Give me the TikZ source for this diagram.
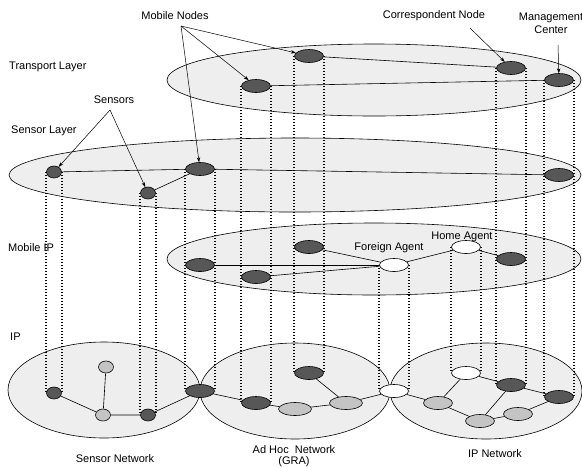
\documentclass[tikz,border=0pt]{standalone}
\usepackage{fontspec}
\setmainfont{Liberation Sans}
\usetikzlibrary{shapes.geometric,arrows.meta}
\definecolor{layerfill}{HTML}{EEEEEE}
\definecolor{darknode}{HTML}{575757}
\definecolor{lightnode}{HTML}{C4C4C4}
\pgfdeclarelayer{back}
\pgfdeclarelayer{mid}
\pgfsetlayers{back,mid,main}
\begin{document}
\begin{tikzpicture}[x=1pt,y=-1pt, font=\fontsize{11}{13}\selectfont,
 layer/.style={draw=black, line width=0.6pt, fill=layerfill},
 nd/.style={ellipse, draw=black, line width=0.6pt, inner sep=0pt, minimum width=29pt, minimum height=13pt},
 dark/.style={nd, fill=darknode},
 darks/.style={nd, fill=darknode, minimum width=15pt, minimum height=12pt},
 light/.style={nd, fill=lightnode},
 lightw/.style={nd, fill=lightnode, minimum width=33pt},
 lights/.style={nd, fill=lightnode, minimum width=15pt, minimum height=12pt},
 agent/.style={nd, fill=white},
 link/.style={draw=black, line width=0.6pt},
 vline/.style={draw=black, line width=1.5pt, dash pattern=on 1.4pt off 1.6pt},
 callout/.style={draw=black, line width=0.5pt, -{Stealth[length=5pt,width=3.5pt]}},
 lbl/.style={inner sep=0pt}]
\useasboundingbox (0,0) rectangle (582,467);

% layer planes
\begin{pgfonlayer}{back}
\draw[layer] (374,80) ellipse [x radius=207pt, y radius=36pt];
\draw[layer] (295,175) ellipse [x radius=286pt, y radius=37pt];
\draw[layer] (374,259) ellipse [x radius=207pt, y radius=36pt];
\draw[layer] (104,390) ellipse [x radius=96pt, y radius=48pt];
\draw[layer] (295,391) ellipse [x radius=95pt, y radius=48pt];
\draw[layer] (486,391) ellipse [x radius=96pt, y radius=48pt];
\end{pgfonlayer}

% transport layer
\node[dark] (T1) at (309,56) {};
\node[dark] (T2) at (256,86) {};
\node[dark] (T3) at (511,68) {};
\node[dark] (T4) at (559,80) {};
% sensor layer
\node[darks] (S1) at (54,172) {};
\node[darks] (S2) at (148,193) {};
\node[dark] (S3) at (200,169) {};
\node[dark] (S4) at (559,175) {};
% mobile IP
\node[dark] (M1) at (200,265) {};
\node[dark] (M2) at (256,277) {};
\node[dark] (M3) at (309,247) {};
\node[agent] (FA) at (394,265) {};
\node[agent] (HA) at (466,247) {};
\node[dark] (M4) at (511,259) {};
% IP level
\node[darks] (B1) at (54,393) {};
\node[lights] (B2) at (106,367) {};
\node[lights] (B3) at (103,415) {};
\node[darks] (B4) at (148,415) {};
\node[dark] (B5) at (200,391) {};
\node[dark] (B6) at (256,403) {};
\node[lightw] (B7) at (295,409) {};
\node[dark] (B8) at (309,373) {};
\node[lightw] (B9) at (346,403) {};
\node[agent] (B10) at (394,391) {};
\node[agent] (B11) at (466,373) {};
\node[light] (B12) at (438,403) {};
\node[dark] (B13) at (511,385) {};
\node[light] (B14) at (480,421) {};
\node[light] (B15) at (518,414) {};
\node[dark] (B16) at (559,397) {};

\begin{pgfonlayer}{mid}
% vertical dotted projections
\foreach \a/\b in {S1/B1,S2/B4,S3/B5,T2/B6,T1/B8,FA/B10,HA/B11,T3/B13,T4/B16}{
  \draw[vline] (\a.west) -- (\b.west);
  \draw[vline] (\a.east) -- (\b.east);
}
% links
\draw[link] (T1) -- (T3);
\draw[link] (T2) -- (T4);
\draw[link] (S1) -- (S3) -- (S4);
\draw[link] (S2) -- (S3);
\draw[link] (M1) -- (FA);
\draw[link] (M2) -- (FA);
\draw[link] (M3) -- (FA);
\draw[link] (FA) -- (HA) -- (M4);
\draw[link] (B1) -- (B3) -- (B4) -- (B5);
\draw[link] (B2) -- (B3);
\draw[link] (B5) -- (B6) -- (B7) -- (B9) -- (B10);
\draw[link] (B8) -- (B9);
\draw[link] (B10) -- (B12) -- (B14) -- (B15) -- (B16);
\draw[link] (B11) -- (B12);
\draw[link] (B11) -- (B13) -- (B16);
\draw[link] (B13) -- (B14);
\end{pgfonlayer}

% labels
\node[lbl, anchor=west] (lt) at (9,67) {Transport Layer};
\node[lbl, anchor=west] (ls) at (11,131) {Sensor Layer};
\node[lbl, anchor=west] (lm) at (8,248) {Mobile IP};
\node[lbl, anchor=west] (li) at (10,337) {IP};
\node[lbl] (lmn) at (175,16) {Mobile Nodes};
\node[lbl] (lsn) at (114,100) {Sensors};
\node[lbl] (lcn) at (434,16) {Correspondent Node};
\node[lbl, align=center] (lmc) at (551,23) {Management\\Center};
\node[lbl] (lfa) at (389,248) {Foreign Agent};
\node[lbl] (lha) at (462,237) {Home Agent};
\node[lbl] (lsnet) at (115,459) {Sensor Network};
\node[lbl, align=center, anchor=north, font=\fontsize{11}{11.5}\selectfont] (lahn) at (294,445) {Ad Hoc\ \ Network\\(GRA)};
\node[lbl] (lipn) at (495,454) {IP Network};

% callouts
\coordinate (mn) at (181,26);
\coordinate (sn) at (110,110);
\coordinate (cn) at (470,28);
\coordinate (mc) at (558,45);
\draw[callout] (mn) -- (T1);
\draw[callout] (mn) -- (T2);
\draw[callout] (mn) -- (S3);
\draw[callout] (sn) -- (S1);
\draw[callout] (sn) -- (S2);
\draw[callout] (cn) -- (T3);
\draw[callout] (mc) -- (T4);
\end{tikzpicture}
\end{document}
